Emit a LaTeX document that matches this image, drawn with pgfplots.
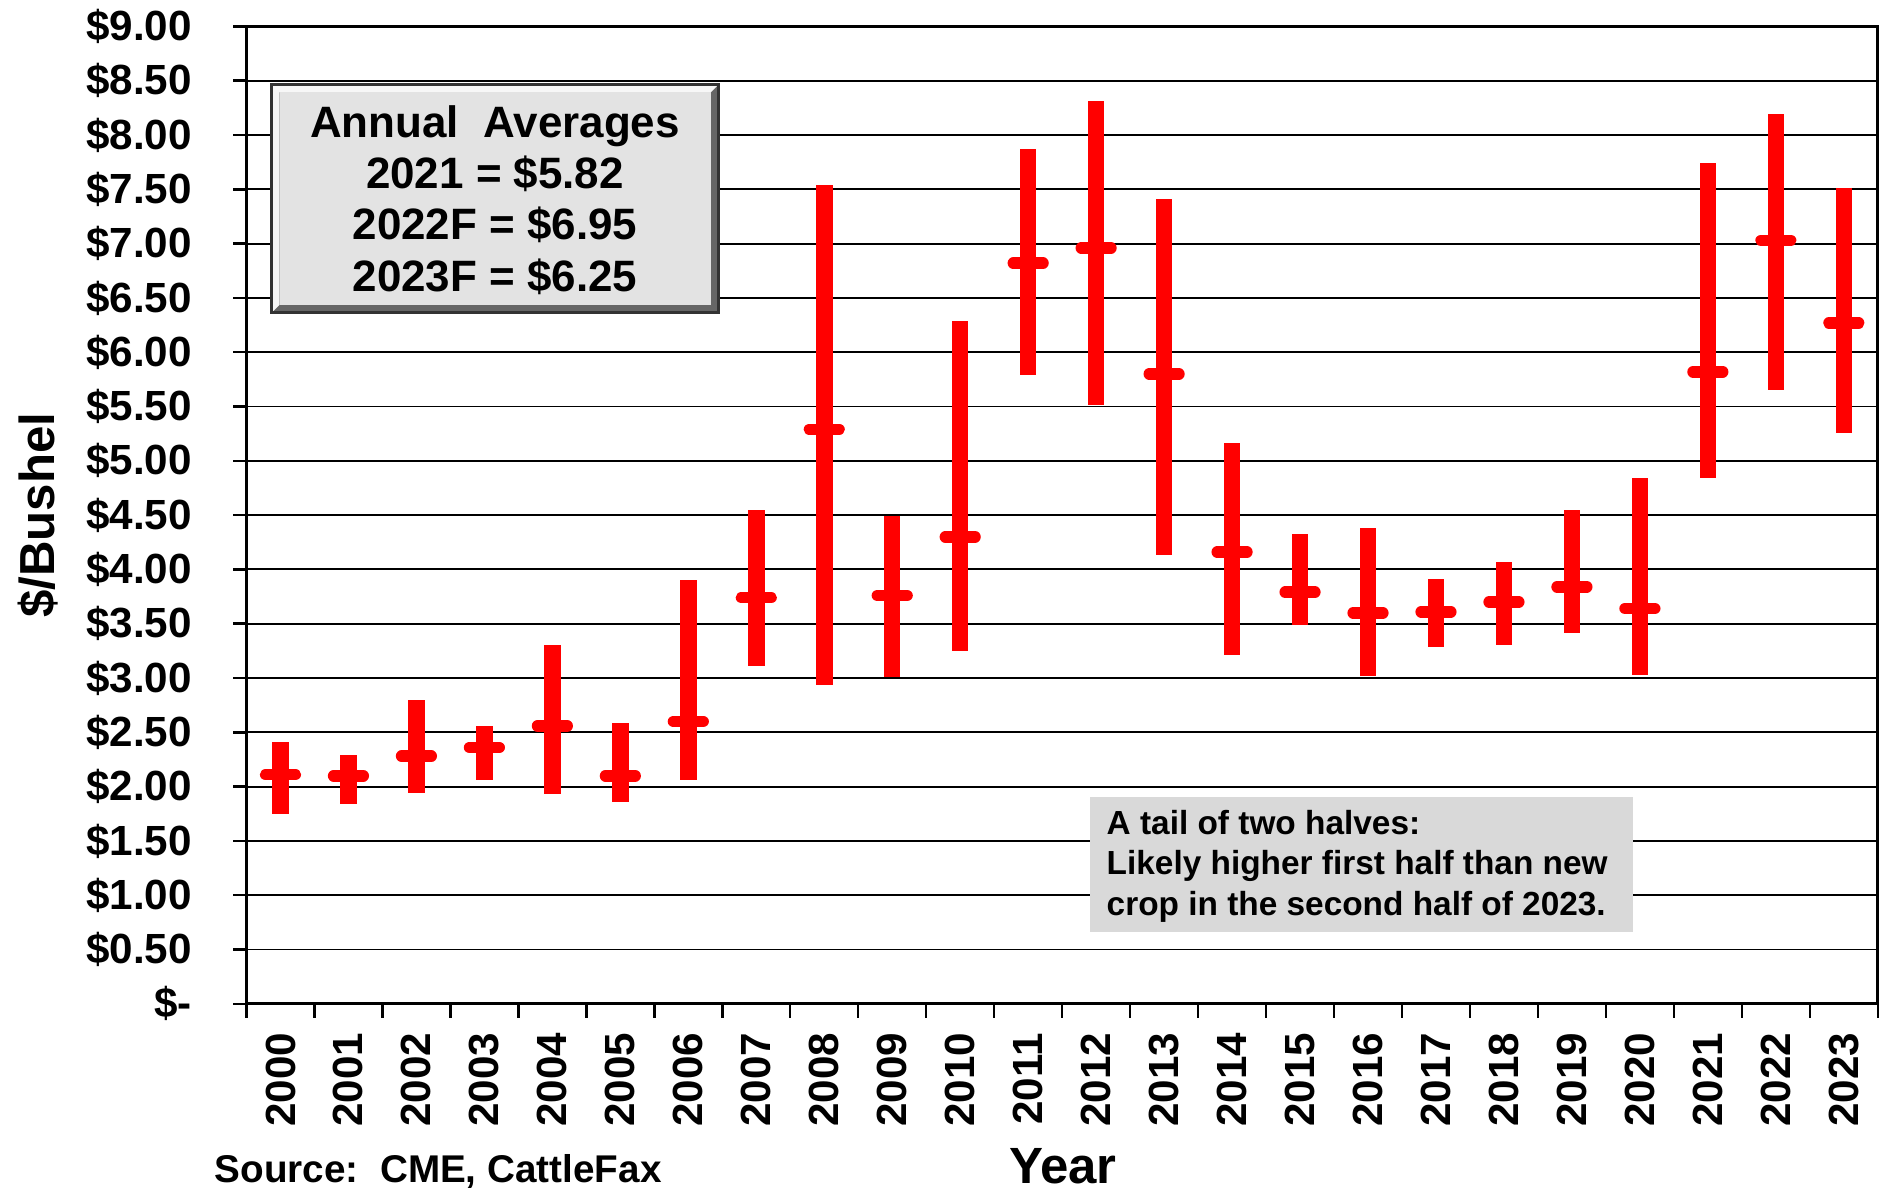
\documentclass[border=0pt]{standalone}
\usepackage{pgfplots}
\pgfplotsset{compat=1.18}
\usepackage{pgfplotstable}
\usepackage{fontspec}
\setmainfont{Liberation Sans}

\pgfplotstableread{
x mid lo hi
0 2.11 1.75 2.41
1 2.10 1.84 2.29
2 2.28 1.94 2.80
3 2.36 2.06 2.56
4 2.56 1.93 3.30
5 2.10 1.86 2.59
6 2.60 2.06 3.90
7 3.74 3.11 4.55
8 5.29 2.94 7.54
9 3.76 3.01 4.49
10 4.30 3.25 6.29
11 6.82 5.79 7.87
12 6.96 5.51 8.31
13 5.80 4.13 7.41
14 4.16 3.21 5.16
15 3.79 3.49 4.33
16 3.60 3.02 4.38
17 3.61 3.29 3.91
18 3.70 3.30 4.07
19 3.84 3.41 4.55
20 3.64 3.03 4.84
21 5.82 4.84 7.74
22 7.03 5.65 8.19
23 6.27 5.26 7.51
}\datatable

\begin{document}
\begin{tikzpicture}
\path[use as bounding box] (-24.65mm,-18.72mm) rectangle (163.85mm,100.38mm);
\begin{axis}[
  at={(0,0)}, anchor=south west,
  scale only axis, width=163.13mm, height=97.74mm,
  xmin=-0.5, xmax=23.5, ymin=0, ymax=9,
  axis line style={line width=0.9pt, black},
  ytick={0,0.5,...,9},
  yticklabels={\$-,\$0.50,\$1.00,\$1.50,\$2.00,\$2.50,\$3.00,\$3.50,\$4.00,\$4.50,\$5.00,\$5.50,\$6.00,\$6.50,\$7.00,\$7.50,\$8.00,\$8.50,\$9.00},
  xtick={0,...,23},
  xticklabels={2000,2001,2002,2003,2004,2005,2006,2007,2008,2009,2010,2011,2012,2013,2014,2015,2016,2017,2018,2019,2020,2021,2022,2023},
  minor xtick={-0.5,0.5,...,23.5},
  major x tick style={draw=none},
  xtick pos=bottom, ytick pos=left,
  tick align=outside,
  major tick length=1.3mm, minor tick length=1.4mm,
  tick style={black, line width=0.7pt},
  ymajorgrids,
  major grid style={black, line width=0.55pt},
  every tick label/.append style={font=\bfseries\fontsize{12}{14}\selectfont},
  yticklabel style={anchor=east, inner sep=0pt, xshift=-4.1mm},
  xticklabel style={rotate=90, anchor=east, inner sep=0pt},
  xticklabel shift=1.55mm,
  ylabel={\$/Bushel},
  every axis y label/.style={at={(axis description cs:-0.1275,0.5)}, rotate=90, anchor=center, font=\bfseries\fontsize{14}{16}\selectfont},
  xlabel={Year},
  every axis x label/.style={at={(axis description cs:0.5005,-0.166)}, anchor=center, inner sep=0pt, font=\bfseries\fontsize{14.5}{16}\selectfont},
  clip=false,
]
\addplot[red, draw=none, no markers, forget plot,
  error bars/.cd, y dir=both, y explicit,
  error bar style={draw=red, line width=4.7pt, line cap=butt},
  error mark=none]
  table[x=x, y=mid, y error plus expr=\thisrow{hi}-\thisrow{mid}, y error minus expr=\thisrow{mid}-\thisrow{lo}] {\datatable};
\addplot[red, only marks, mark=-, mark size=1.48mm,
  mark options={draw=red, fill=red, line width=3.3pt, line cap=round}]
  table[x=x, y=mid] {\datatable};
\end{axis}
% Annual averages box
\fill[black!60] (2.52mm,69.12mm) rectangle (47.24mm,91.96mm);
\fill[black!3] (2.52mm,69.12mm) -- (2.52mm,91.96mm) -- (47.24mm,91.96mm) -- (46.44mm,91.16mm) -- (3.32mm,91.16mm) -- (3.32mm,69.92mm) -- cycle;
\fill[black!11] (3.32mm,69.92mm) rectangle (46.44mm,91.16mm);
\draw[black!80, line width=0.9pt] (2.52mm,69.12mm) rectangle (47.24mm,91.96mm);
\node[align=center, inner sep=0pt, font=\bfseries\fontsize{12.5}{14.6}\selectfont] at (24.85mm,80.4mm)
  {Annual\ \ Averages\\2021 = \$5.82\\2022F = \$6.95\\2023F = \$6.25};
% note box
\fill[black!15] (84.39mm,7.21mm) rectangle (138.61mm,20.67mm);
\node[anchor=west, align=left, inner sep=0pt, font=\bfseries\fontsize{9.5}{11.5}\selectfont] at (85.95mm,13.75mm)
  {A tail of two halves:\\Likely higher first half than new\\crop in the second half of 2023.};
% source
\node[anchor=west, inner sep=0pt, font=\bfseries\fontsize{11}{13}\selectfont] at (-3.25mm,-16.8mm) {Source:\ \ CME, CattleFax};
\end{tikzpicture}
\end{document}
